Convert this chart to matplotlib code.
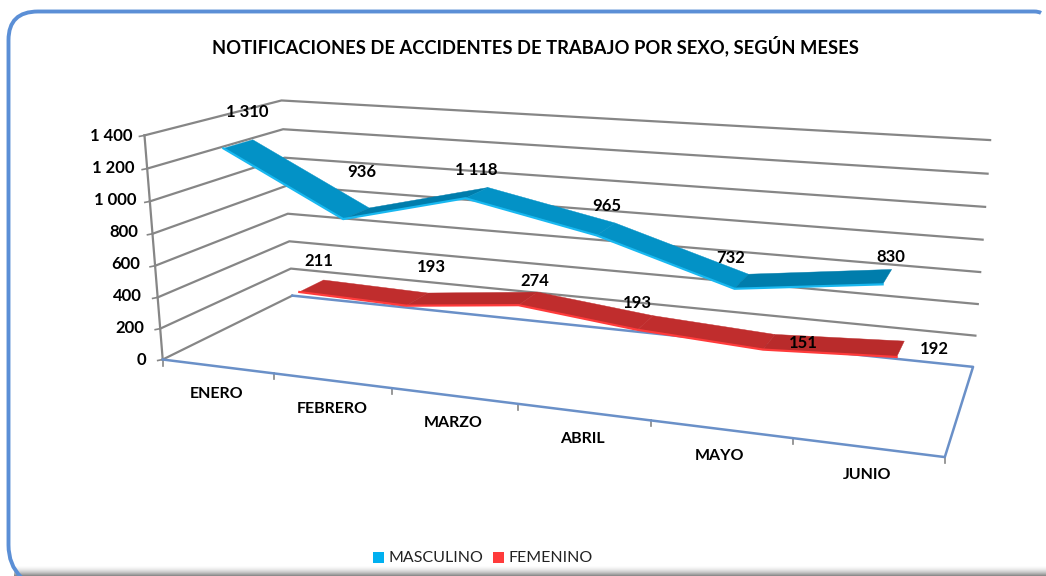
import numpy as np
import matplotlib
matplotlib.use('Agg')
import matplotlib.pyplot as plt
from matplotlib.path import Path
from matplotlib.patches import PathPatch, Polygon, Rectangle

plt.rcParams['font.family'] = ['Lato', 'DejaVu Sans']

# data
months = ['ENERO', 'FEBRERO', 'MARZO', 'ABRIL', 'MAYO', 'JUNIO']
masculino = [1310, 936, 1118, 965, 732, 830]
femenino = [211, 193, 274, 193, 151, 192]
y_ticks = [0, 200, 400, 600, 800, 1000, 1200, 1400]
y_tick_labels = ['0', '200', '400', '600', '800', '1 000', '1 200', '1 400']
masc_labels = ['1 310', '936', '1 118', '965', '732', '830']
fem_labels = ['211', '193', '274', '193', '151', '192']

# layout, in pixels of the picture
masc_label_pos = [(247, 112), (362, 172), (476, 170), (607, 206), (731, 258), (891, 257)]
fem_label_pos = [(319, 261), (431, 267), (535, 281), (637, 303), (803, 343), (934, 349)]
month_label_pos = [(217, 394), (332, 409), (453, 423), (582, 439), (720, 456), (867, 475)]
y_max = 1400.0

# corners of the 3d box (u along months, w depth, v height) and where they land
box_world = [(0, 0, 0), (1, 0, 0), (0, 1, 0), (1, 1, 0), (0, 0, 1), (0, 1, 1), (1, 1, 1)]
box_pixels = [(163, 359), (945, 457), (292, 296), (973, 367), (144, 136), (282, 100), (990, 140)]


def fit_camera(world, pixels):
    rows = []
    for (u, w, v), (px, py) in zip(world, pixels):
        p = [u, w, v, 1]
        rows.append(p + [0, 0, 0, 0] + [-px * c for c in p])
        rows.append([0, 0, 0, 0] + p + [-py * c for c in p])
    return np.linalg.svd(np.array(rows, float))[2][-1].reshape(3, 4)


cam = fit_camera(box_world, box_pixels)


def project(u, w, value):
    q = cam @ np.array([u, w, value / y_max, 1.0])
    return q[0] / q[2], q[1] / q[2]


def ribbon(ax, values, w0, w1, col_a, col_b, col_edge):
    n = len(values)
    # segments going up get the darker face, like the original shading
    for i in range(n - 1):
        u0, u1 = (i + 0.5) / n, (i + 1.5) / n
        pts = [project(u0, w0, values[i]), project(u1, w0, values[i + 1]),
               project(u1, w1, values[i + 1]), project(u0, w1, values[i])]
        face = col_b if values[i + 1] >= values[i] else col_a
        ax.add_patch(Polygon(pts, closed=True, fc=face, ec=face, lw=0.3, zorder=4))
    front = [project((i + 0.5) / n, w0, values[i]) for i in range(n)]
    ax.plot(*zip(*front), color=col_edge, lw=1.6, zorder=5, solid_joinstyle='miter')


fig = plt.figure(figsize=(10.46, 5.76), dpi=100)
ax = fig.add_axes([0, 0, 1, 1])
ax.axis('off')

# bottom shadow, then the panel border on top of it
shade = 1 - 0.45 * np.linspace(0, 1, 12) ** 2
ax.imshow(shade[:, None], extent=(14, 1046, 576, 564), cmap='gray',
          vmin=0, vmax=1, aspect='auto', zorder=1)
ax.set_xlim(0, 1046)
ax.set_ylim(576, 0)

verts = [(21, 577), (8.5, 565), (8.5, 545), (8.5, 40), (8.5, 11.5), (38, 11.5),
         (1034, 11.5), (1039, 11.5), (1041, 13)]
codes = [Path.MOVETO, Path.CURVE3, Path.CURVE3, Path.LINETO, Path.CURVE3, Path.CURVE3,
         Path.LINETO, Path.CURVE3, Path.CURVE3]
ax.add_patch(PathPatch(Path(verts, codes), fc='none', ec='#5B8FD6', lw=2.8, zorder=2))

# walls
grid_c = '#868686'
for t, lab in zip(y_ticks, y_tick_labels):
    pts = [project(0, 0, t), project(0, 1, t), project(1, 1, t)]
    if t == 0:
        pts = pts[:2]
    ax.plot(*zip(*pts), color=grid_c, lw=1.6, zorder=2)
    p = pts[0]
    ax.plot([p[0] - 5, p[0]], [p[1] + 1, p[1]], color=grid_c, lw=1.2, zorder=2)
    ax.text(132 + 14 * (1 - t / y_max), 360 - (360 - 136) * t / y_max, lab,
            ha='right', va='center', fontsize=12, fontweight='bold', color='black', zorder=7)
ax.plot(*zip(project(0, 0, 0), project(0, 0, y_max)), color=grid_c, lw=1.6, zorder=2)

# floor
floor_c = '#6A90C8'
ax.plot(*zip(project(0, 1, 0), project(1, 1, 0), project(1, 0, 0), project(0, 0, 0)),
        color=floor_c, lw=1.8, zorder=3)
for i in range(len(months) + 1):
    p = project(i / len(months), 0, 0)
    ax.plot([p[0], p[0]], [p[1], p[1] + 6], color=grid_c, lw=1.2, zorder=2)

# series, back one first
ribbon(ax, femenino, 0.64, 0.85, '#C02D2D', '#B92B2B', '#FF3B3B')
ribbon(ax, masculino, 0.14, 0.35, '#0392C6', '#007DAC', '#19B8F0')

# texts
ax.text(535, 46, 'NOTIFICACIONES DE ACCIDENTES DE TRABAJO POR SEXO, SEGÚN MESES',
        ha='center', va='center', fontsize=13.2, fontweight='bold', color='black')
for name, pos in zip(months, month_label_pos):
    ax.text(pos[0], pos[1], name, ha='center', va='center', fontsize=11.5, fontweight='bold')
for txt, pos in zip(masc_labels + fem_labels, masc_label_pos + fem_label_pos):
    ax.text(pos[0], pos[1], txt, ha='center', va='center', fontsize=12, fontweight='bold', zorder=8)

# legend
ax.add_patch(Rectangle((373, 552), 11, 11, fc='#00B0F0', ec='none'))
ax.text(389, 557.5, 'MASCULINO', ha='left', va='center', fontsize=11.5, color='#222222')
ax.add_patch(Rectangle((493, 552), 11, 11, fc='#FF3B3B', ec='none'))
ax.text(508, 557.5, 'FEMENINO', ha='left', va='center', fontsize=11.5, color='#222222')

fig.savefig('out.png', dpi=100)
